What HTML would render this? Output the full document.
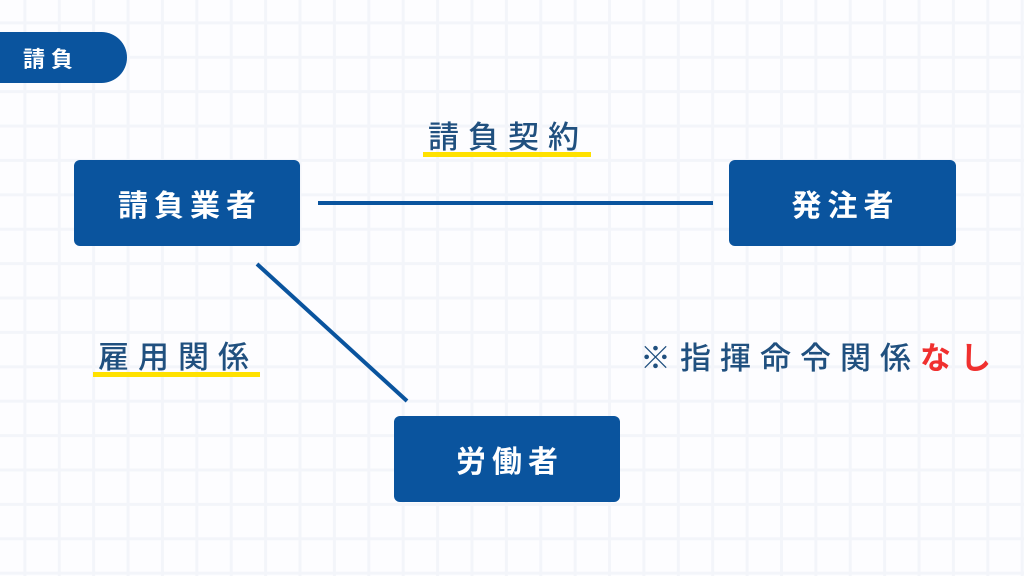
<!DOCTYPE html>
<html><head><meta charset="utf-8"><style>
body{margin:0;width:1024px;height:576px;overflow:hidden;position:relative;font-family:"Liberation Sans","Noto Sans CJK JP",sans-serif;
background-color:#fdfdff;
background-image:linear-gradient(to right,#f3f5fa 3px,transparent 3px),linear-gradient(to bottom,#f3f5fa 3px,transparent 3px);
background-size:34.4px 34.4px;background-position:-11px -13px;}
.b{position:absolute;background:#0a549e;color:#fff;font-weight:bold;font-size:30px;display:flex;align-items:center;justify-content:center;border-radius:6px;letter-spacing:6px;padding-left:6px;box-sizing:border-box}
.l{position:absolute;color:#20507f;font-size:31px;font-weight:500;letter-spacing:9px;white-space:nowrap}
.u{position:absolute;height:5px;background:#ffe100}
</style></head><body>
<div style="position:absolute;left:0;top:32px;width:127px;height:51px;background:#0a549e;border-radius:0 26px 26px 0;color:#fff;font-weight:bold;font-size:22px;display:flex;align-items:center;padding-left:23px;box-sizing:border-box;letter-spacing:6px">請負</div>
<div class="b" style="left:74px;top:160px;width:226px;height:86px">請負業者</div>
<div class="b" style="left:729px;top:160px;width:227px;height:86px">発注者</div>
<div class="b" style="left:394px;top:416px;width:226px;height:86px">労働者</div>
<svg style="position:absolute;left:0;top:0" width="1024" height="576">
<line x1="318" y1="203" x2="713" y2="203" stroke="#0a549e" stroke-width="4"/>
<line x1="257" y1="264" x2="407" y2="401" stroke="#0a549e" stroke-width="4"/>
</svg>
<div class="u" style="left:423px;top:152px;width:168px"></div>
<div class="l" style="left:428px;top:112px">請負契約</div>
<div class="u" style="left:93px;top:372px;width:167px"></div>
<div class="l" style="left:98px;top:332px">雇用関係</div>
<div class="l" style="left:640px;top:333px;letter-spacing:9px">※指揮命令関係<span style="color:#f0302f;font-weight:bold">なし</span></div>
</body></html>
